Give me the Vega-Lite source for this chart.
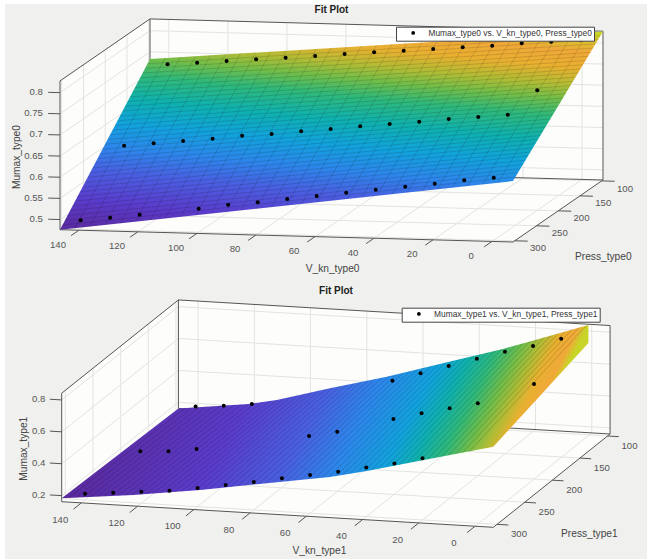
{"$schema":"https://vega.github.io/schema/vega-lite/v6.json","background":"#ffffff","padding":{"left":5,"top":4,"right":0,"bottom":0},"spacing":0,"resolve":{"scale":{"shape":"independent"},"legend":{"shape":"independent"}},"config":{"view":{"stroke":null,"fill":"#f0f0ee"},"text":{"font":"Liberation Sans"},"title":{"font":"Liberation Sans"},"legend":{"labelFont":"Liberation Sans"}},
"vconcat":[
{"width":642,"height":276,"title":{"text":"Fit Plot","fontSize":10,"fontWeight":"bold","color":"#222222","anchor":"middle","frame":"group","dx":5.5,"offset":-11},
"data":{"values":[
{"k":"w","V":146.4,"P":304,"Mu":0.476},{"k":"w","V":146.4,"P":304,"Mu":0.8277},{"k":"w","V":146.4,"P":97,"Mu":0.8277},{"k":"w","V":-7.1,"P":97,"Mu":0.8277},{"k":"w","V":-7.1,"P":97,"Mu":0.476},{"k":"w","V":-7.1,"P":304,"Mu":0.476},
{"k":"g","g":1,"V":140,"P":304,"Mu":0.476},{"k":"g","g":1,"V":140,"P":97,"Mu":0.476},{"k":"g","g":1,"V":140,"P":97,"Mu":0.8277},
{"k":"g","g":2,"V":120,"P":304,"Mu":0.476},{"k":"g","g":2,"V":120,"P":97,"Mu":0.476},{"k":"g","g":2,"V":120,"P":97,"Mu":0.8277},
{"k":"g","g":3,"V":100,"P":304,"Mu":0.476},{"k":"g","g":3,"V":100,"P":97,"Mu":0.476},{"k":"g","g":3,"V":100,"P":97,"Mu":0.8277},
{"k":"g","g":4,"V":80,"P":304,"Mu":0.476},{"k":"g","g":4,"V":80,"P":97,"Mu":0.476},{"k":"g","g":4,"V":80,"P":97,"Mu":0.8277},
{"k":"g","g":5,"V":60,"P":304,"Mu":0.476},{"k":"g","g":5,"V":60,"P":97,"Mu":0.476},{"k":"g","g":5,"V":60,"P":97,"Mu":0.8277},
{"k":"g","g":6,"V":40,"P":304,"Mu":0.476},{"k":"g","g":6,"V":40,"P":97,"Mu":0.476},{"k":"g","g":6,"V":40,"P":97,"Mu":0.8277},
{"k":"g","g":7,"V":20,"P":304,"Mu":0.476},{"k":"g","g":7,"V":20,"P":97,"Mu":0.476},{"k":"g","g":7,"V":20,"P":97,"Mu":0.8277},
{"k":"g","g":8,"V":0,"P":304,"Mu":0.476},{"k":"g","g":8,"V":0,"P":97,"Mu":0.476},{"k":"g","g":8,"V":0,"P":97,"Mu":0.8277},
{"k":"g","g":9,"V":146.4,"P":100,"Mu":0.8277},{"k":"g","g":9,"V":146.4,"P":100,"Mu":0.476},{"k":"g","g":9,"V":-7.1,"P":100,"Mu":0.476},
{"k":"g","g":10,"V":146.4,"P":150,"Mu":0.8277},{"k":"g","g":10,"V":146.4,"P":150,"Mu":0.476},{"k":"g","g":10,"V":-7.1,"P":150,"Mu":0.476},
{"k":"g","g":11,"V":146.4,"P":200,"Mu":0.8277},{"k":"g","g":11,"V":146.4,"P":200,"Mu":0.476},{"k":"g","g":11,"V":-7.1,"P":200,"Mu":0.476},
{"k":"g","g":12,"V":146.4,"P":250,"Mu":0.8277},{"k":"g","g":12,"V":146.4,"P":250,"Mu":0.476},{"k":"g","g":12,"V":-7.1,"P":250,"Mu":0.476},
{"k":"g","g":13,"V":146.4,"P":300,"Mu":0.8277},{"k":"g","g":13,"V":146.4,"P":300,"Mu":0.476},{"k":"g","g":13,"V":-7.1,"P":300,"Mu":0.476},
{"k":"g","g":14,"V":146.4,"P":304,"Mu":0.5},{"k":"g","g":14,"V":146.4,"P":97,"Mu":0.5},{"k":"g","g":14,"V":-7.1,"P":97,"Mu":0.5},
{"k":"g","g":15,"V":146.4,"P":304,"Mu":0.55},{"k":"g","g":15,"V":146.4,"P":97,"Mu":0.55},{"k":"g","g":15,"V":-7.1,"P":97,"Mu":0.55},
{"k":"g","g":16,"V":146.4,"P":304,"Mu":0.6},{"k":"g","g":16,"V":146.4,"P":97,"Mu":0.6},{"k":"g","g":16,"V":-7.1,"P":97,"Mu":0.6},
{"k":"g","g":17,"V":146.4,"P":304,"Mu":0.65},{"k":"g","g":17,"V":146.4,"P":97,"Mu":0.65},{"k":"g","g":17,"V":-7.1,"P":97,"Mu":0.65},
{"k":"g","g":18,"V":146.4,"P":304,"Mu":0.7},{"k":"g","g":18,"V":146.4,"P":97,"Mu":0.7},{"k":"g","g":18,"V":-7.1,"P":97,"Mu":0.7},
{"k":"g","g":19,"V":146.4,"P":304,"Mu":0.75},{"k":"g","g":19,"V":146.4,"P":97,"Mu":0.75},{"k":"g","g":19,"V":-7.1,"P":97,"Mu":0.75},
{"k":"g","g":20,"V":146.4,"P":304,"Mu":0.8},{"k":"g","g":20,"V":146.4,"P":97,"Mu":0.8},{"k":"g","g":20,"V":-7.1,"P":97,"Mu":0.8},
{"k":"b","g":1,"V":146.4,"P":304,"Mu":0.476},{"k":"b","g":1,"V":146.4,"P":304,"Mu":0.8277},{"k":"b","g":1,"V":146.4,"P":97,"Mu":0.8277},{"k":"b","g":1,"V":-7.1,"P":97,"Mu":0.8277},{"k":"b","g":1,"V":-7.1,"P":97,"Mu":0.476},{"k":"b","g":1,"V":146.4,"P":97,"Mu":0.476},{"k":"b","g":1,"V":146.4,"P":97,"Mu":0.8277},
{"k":"b","g":2,"V":146.4,"P":304,"Mu":0.476},{"k":"b","g":2,"V":-7.1,"P":304,"Mu":0.476},{"k":"b","g":2,"V":-7.1,"P":97,"Mu":0.476},
{"k":"b","g":3,"V":140,"P":304,"Mu":0.476},{"k":"b","g":3,"V":140,"P":322,"Mu":0.476},{"k":"b","g":4,"V":120,"P":304,"Mu":0.476},{"k":"b","g":4,"V":120,"P":322,"Mu":0.476},{"k":"b","g":5,"V":100,"P":304,"Mu":0.476},{"k":"b","g":5,"V":100,"P":322,"Mu":0.476},{"k":"b","g":6,"V":80,"P":304,"Mu":0.476},{"k":"b","g":6,"V":80,"P":322,"Mu":0.476},{"k":"b","g":7,"V":60,"P":304,"Mu":0.476},{"k":"b","g":7,"V":60,"P":322,"Mu":0.476},{"k":"b","g":8,"V":40,"P":304,"Mu":0.476},{"k":"b","g":8,"V":40,"P":322,"Mu":0.476},{"k":"b","g":9,"V":20,"P":304,"Mu":0.476},{"k":"b","g":9,"V":20,"P":322,"Mu":0.476},{"k":"b","g":10,"V":0,"P":304,"Mu":0.476},{"k":"b","g":10,"V":0,"P":322,"Mu":0.476},
{"k":"b","g":11,"V":-7.1,"P":100,"Mu":0.476},{"k":"b","g":11,"V":-11.5,"P":100,"Mu":0.476},{"k":"b","g":12,"V":-7.1,"P":150,"Mu":0.476},{"k":"b","g":12,"V":-11.5,"P":150,"Mu":0.476},{"k":"b","g":13,"V":-7.1,"P":200,"Mu":0.476},{"k":"b","g":13,"V":-11.5,"P":200,"Mu":0.476},{"k":"b","g":14,"V":-7.1,"P":250,"Mu":0.476},{"k":"b","g":14,"V":-11.5,"P":250,"Mu":0.476},{"k":"b","g":15,"V":-7.1,"P":300,"Mu":0.476},{"k":"b","g":15,"V":-11.5,"P":300,"Mu":0.476},
{"k":"b","g":16,"V":146.4,"P":304,"Mu":0.5},{"k":"b","g":16,"V":150.4,"P":304,"Mu":0.5},{"k":"b","g":17,"V":146.4,"P":304,"Mu":0.55},{"k":"b","g":17,"V":150.4,"P":304,"Mu":0.55},{"k":"b","g":18,"V":146.4,"P":304,"Mu":0.6},{"k":"b","g":18,"V":150.4,"P":304,"Mu":0.6},{"k":"b","g":19,"V":146.4,"P":304,"Mu":0.65},{"k":"b","g":19,"V":150.4,"P":304,"Mu":0.65},{"k":"b","g":20,"V":146.4,"P":304,"Mu":0.7},{"k":"b","g":20,"V":150.4,"P":304,"Mu":0.7},{"k":"b","g":21,"V":146.4,"P":304,"Mu":0.75},{"k":"b","g":21,"V":150.4,"P":304,"Mu":0.75},{"k":"b","g":22,"V":146.4,"P":304,"Mu":0.8},{"k":"b","g":22,"V":150.4,"P":304,"Mu":0.8},
{"k":"l","t":"140","V":140,"P":352,"Mu":0.476},{"k":"l","t":"120","V":120,"P":352,"Mu":0.476},{"k":"l","t":"100","V":100,"P":352,"Mu":0.476},{"k":"l","t":"80","V":80,"P":352,"Mu":0.476},{"k":"l","t":"60","V":60,"P":352,"Mu":0.476},{"k":"l","t":"40","V":40,"P":352,"Mu":0.476},{"k":"l","t":"20","V":20,"P":352,"Mu":0.476},{"k":"l","t":"0","V":0,"P":352,"Mu":0.476},
{"k":"l","t":"100","V":-15,"P":100,"Mu":0.4595},{"k":"l","t":"150","V":-15,"P":150,"Mu":0.4595},{"k":"l","t":"200","V":-15,"P":200,"Mu":0.4595},{"k":"l","t":"250","V":-15,"P":250,"Mu":0.4595},{"k":"l","t":"300","V":-15,"P":300,"Mu":0.4595},
{"k":"z","t":"0.5","V":152.2,"P":304,"Mu":0.5},{"k":"z","t":"0.55","V":152.2,"P":304,"Mu":0.55},{"k":"z","t":"0.6","V":152.2,"P":304,"Mu":0.6},{"k":"z","t":"0.65","V":152.2,"P":304,"Mu":0.65},{"k":"z","t":"0.7","V":152.2,"P":304,"Mu":0.7},{"k":"z","t":"0.75","V":152.2,"P":304,"Mu":0.75},{"k":"z","t":"0.8","V":152.2,"P":304,"Mu":0.8},
{"k":"a","t":"V_kn_type0","V":39,"P":406,"Mu":0.476},{"k":"a","t":"Press_type0","V":-43.6,"P":344,"Mu":0.476},{"k":"r","t":"Mumax_type0","V":161.1,"P":304,"Mu":0.645},
{"k":"s","V":146.4,"P":304,"Mu":0.476},{"k":"s","V":-7.1,"P":304,"Mu":0.62},{"k":"s","V":-7.1,"P":97,"Mu":0.827},{"k":"s","V":146.4,"P":97,"Mu":0.733},
{"k":"m","g":1,"V":141.3,"P":304,"Mu":0.481},{"k":"m","g":1,"V":141.3,"P":97,"Mu":0.736},{"k":"m","g":2,"V":136.2,"P":304,"Mu":0.486},{"k":"m","g":2,"V":136.2,"P":97,"Mu":0.739},{"k":"m","g":3,"V":131.05,"P":304,"Mu":0.49},{"k":"m","g":3,"V":131.05,"P":97,"Mu":0.742},{"k":"m","g":4,"V":125.9,"P":304,"Mu":0.495},{"k":"m","g":4,"V":125.9,"P":97,"Mu":0.746},{"k":"m","g":5,"V":120.8,"P":304,"Mu":0.5},{"k":"m","g":5,"V":120.8,"P":97,"Mu":0.749},{"k":"m","g":6,"V":115.7,"P":304,"Mu":0.505},{"k":"m","g":6,"V":115.7,"P":97,"Mu":0.752},{"k":"m","g":7,"V":110.6,"P":304,"Mu":0.51},{"k":"m","g":7,"V":110.6,"P":97,"Mu":0.755},{"k":"m","g":8,"V":105.5,"P":304,"Mu":0.514},{"k":"m","g":8,"V":105.5,"P":97,"Mu":0.758},{"k":"m","g":9,"V":100.4,"P":304,"Mu":0.519},{"k":"m","g":9,"V":100.4,"P":97,"Mu":0.761},{"k":"m","g":10,"V":95.2,"P":304,"Mu":0.524},{"k":"m","g":10,"V":95.2,"P":97,"Mu":0.764},{"k":"m","g":11,"V":90.1,"P":304,"Mu":0.529},{"k":"m","g":11,"V":90.1,"P":97,"Mu":0.767},{"k":"m","g":12,"V":85,"P":304,"Mu":0.534},{"k":"m","g":12,"V":85,"P":97,"Mu":0.771},{"k":"m","g":13,"V":79.9,"P":304,"Mu":0.538},{"k":"m","g":13,"V":79.9,"P":97,"Mu":0.774},{"k":"m","g":14,"V":74.8,"P":304,"Mu":0.543},{"k":"m","g":14,"V":74.8,"P":97,"Mu":0.777},{"k":"m","g":15,"V":69.65,"P":304,"Mu":0.548},{"k":"m","g":15,"V":69.65,"P":97,"Mu":0.78},{"k":"m","g":16,"V":64.5,"P":304,"Mu":0.553},{"k":"m","g":16,"V":64.5,"P":97,"Mu":0.783},{"k":"m","g":17,"V":59.4,"P":304,"Mu":0.558},{"k":"m","g":17,"V":59.4,"P":97,"Mu":0.786},{"k":"m","g":18,"V":54.3,"P":304,"Mu":0.562},{"k":"m","g":18,"V":54.3,"P":97,"Mu":0.789},{"k":"m","g":19,"V":49.2,"P":304,"Mu":0.567},{"k":"m","g":19,"V":49.2,"P":97,"Mu":0.792},{"k":"m","g":20,"V":44.1,"P":304,"Mu":0.572},{"k":"m","g":20,"V":44.1,"P":97,"Mu":0.796},{"k":"m","g":21,"V":38.95,"P":304,"Mu":0.577},{"k":"m","g":21,"V":38.95,"P":97,"Mu":0.799},{"k":"m","g":22,"V":33.8,"P":304,"Mu":0.582},{"k":"m","g":22,"V":33.8,"P":97,"Mu":0.802},{"k":"m","g":23,"V":28.7,"P":304,"Mu":0.586},{"k":"m","g":23,"V":28.7,"P":97,"Mu":0.805},{"k":"m","g":24,"V":23.6,"P":304,"Mu":0.591},{"k":"m","g":24,"V":23.6,"P":97,"Mu":0.808},{"k":"m","g":25,"V":18.5,"P":304,"Mu":0.596},{"k":"m","g":25,"V":18.5,"P":97,"Mu":0.811},{"k":"m","g":26,"V":13.4,"P":304,"Mu":0.601},{"k":"m","g":26,"V":13.4,"P":97,"Mu":0.814},{"k":"m","g":27,"V":8.25,"P":304,"Mu":0.606},{"k":"m","g":27,"V":8.25,"P":97,"Mu":0.818},{"k":"m","g":28,"V":3.1,"P":304,"Mu":0.61},{"k":"m","g":28,"V":3.1,"P":97,"Mu":0.821},{"k":"m","g":29,"V":-2,"P":304,"Mu":0.615},{"k":"m","g":29,"V":-2,"P":97,"Mu":0.824},
{"k":"m","g":31,"V":146.4,"P":298.25,"Mu":0.483},{"k":"m","g":31,"V":-7.1,"P":298.25,"Mu":0.626},{"k":"m","g":32,"V":146.4,"P":292.5,"Mu":0.49},{"k":"m","g":32,"V":-7.1,"P":292.5,"Mu":0.632},{"k":"m","g":33,"V":146.4,"P":286.75,"Mu":0.497},{"k":"m","g":33,"V":-7.1,"P":286.75,"Mu":0.637},{"k":"m","g":34,"V":146.4,"P":281,"Mu":0.505},{"k":"m","g":34,"V":-7.1,"P":281,"Mu":0.643},{"k":"m","g":35,"V":146.4,"P":275.25,"Mu":0.512},{"k":"m","g":35,"V":-7.1,"P":275.25,"Mu":0.649},{"k":"m","g":36,"V":146.4,"P":269.5,"Mu":0.519},{"k":"m","g":36,"V":-7.1,"P":269.5,"Mu":0.655},{"k":"m","g":37,"V":146.4,"P":263.75,"Mu":0.526},{"k":"m","g":37,"V":-7.1,"P":263.75,"Mu":0.66},{"k":"m","g":38,"V":146.4,"P":258,"Mu":0.533},{"k":"m","g":38,"V":-7.1,"P":258,"Mu":0.666},{"k":"m","g":39,"V":146.4,"P":252.25,"Mu":0.54},{"k":"m","g":39,"V":-7.1,"P":252.25,"Mu":0.672},{"k":"m","g":40,"V":146.4,"P":246.5,"Mu":0.547},{"k":"m","g":40,"V":-7.1,"P":246.5,"Mu":0.678},{"k":"m","g":41,"V":146.4,"P":240.75,"Mu":0.555},{"k":"m","g":41,"V":-7.1,"P":240.75,"Mu":0.683},{"k":"m","g":42,"V":146.4,"P":235,"Mu":0.562},{"k":"m","g":42,"V":-7.1,"P":235,"Mu":0.689},{"k":"m","g":43,"V":146.4,"P":229.25,"Mu":0.569},{"k":"m","g":43,"V":-7.1,"P":229.25,"Mu":0.695},{"k":"m","g":44,"V":146.4,"P":223.5,"Mu":0.576},{"k":"m","g":44,"V":-7.1,"P":223.5,"Mu":0.701},{"k":"m","g":45,"V":146.4,"P":217.75,"Mu":0.583},{"k":"m","g":45,"V":-7.1,"P":217.75,"Mu":0.706},{"k":"m","g":46,"V":146.4,"P":212,"Mu":0.59},{"k":"m","g":46,"V":-7.1,"P":212,"Mu":0.712},{"k":"m","g":47,"V":146.4,"P":206.25,"Mu":0.597},{"k":"m","g":47,"V":-7.1,"P":206.25,"Mu":0.718},{"k":"m","g":48,"V":146.4,"P":200.5,"Mu":0.605},{"k":"m","g":48,"V":-7.1,"P":200.5,"Mu":0.724},{"k":"m","g":49,"V":146.4,"P":194.75,"Mu":0.612},{"k":"m","g":49,"V":-7.1,"P":194.75,"Mu":0.729},{"k":"m","g":50,"V":146.4,"P":189,"Mu":0.619},{"k":"m","g":50,"V":-7.1,"P":189,"Mu":0.735},{"k":"m","g":51,"V":146.4,"P":183.25,"Mu":0.626},{"k":"m","g":51,"V":-7.1,"P":183.25,"Mu":0.741},{"k":"m","g":52,"V":146.4,"P":177.5,"Mu":0.633},{"k":"m","g":52,"V":-7.1,"P":177.5,"Mu":0.747},{"k":"m","g":53,"V":146.4,"P":171.75,"Mu":0.64},{"k":"m","g":53,"V":-7.1,"P":171.75,"Mu":0.752},{"k":"m","g":54,"V":146.4,"P":166,"Mu":0.647},{"k":"m","g":54,"V":-7.1,"P":166,"Mu":0.758},{"k":"m","g":55,"V":146.4,"P":160.25,"Mu":0.655},{"k":"m","g":55,"V":-7.1,"P":160.25,"Mu":0.764},{"k":"m","g":56,"V":146.4,"P":154.5,"Mu":0.662},{"k":"m","g":56,"V":-7.1,"P":154.5,"Mu":0.77},{"k":"m","g":57,"V":146.4,"P":148.75,"Mu":0.669},{"k":"m","g":57,"V":-7.1,"P":148.75,"Mu":0.775},{"k":"m","g":58,"V":146.4,"P":143,"Mu":0.676},{"k":"m","g":58,"V":-7.1,"P":143,"Mu":0.781},{"k":"m","g":59,"V":146.4,"P":137.25,"Mu":0.683},{"k":"m","g":59,"V":-7.1,"P":137.25,"Mu":0.787},{"k":"m","g":60,"V":146.4,"P":131.5,"Mu":0.69},{"k":"m","g":60,"V":-7.1,"P":131.5,"Mu":0.793},{"k":"m","g":61,"V":146.4,"P":125.75,"Mu":0.697},{"k":"m","g":61,"V":-7.1,"P":125.75,"Mu":0.798},{"k":"m","g":62,"V":146.4,"P":120,"Mu":0.705},{"k":"m","g":62,"V":-7.1,"P":120,"Mu":0.804},{"k":"m","g":63,"V":146.4,"P":114.25,"Mu":0.712},{"k":"m","g":63,"V":-7.1,"P":114.25,"Mu":0.81},{"k":"m","g":64,"V":146.4,"P":108.5,"Mu":0.719},{"k":"m","g":64,"V":-7.1,"P":108.5,"Mu":0.816},{"k":"m","g":65,"V":146.4,"P":102.75,"Mu":0.726},{"k":"m","g":65,"V":-7.1,"P":102.75,"Mu":0.821},
{"k":"p","V":140,"P":100,"Mu":0.7238},{"k":"p","V":130,"P":100,"Mu":0.7294},{"k":"p","V":120,"P":100,"Mu":0.7353},{"k":"p","V":110,"P":100,"Mu":0.7412},{"k":"p","V":100,"P":100,"Mu":0.7469},{"k":"p","V":90,"P":100,"Mu":0.7528},{"k":"p","V":80,"P":100,"Mu":0.7594},{"k":"p","V":70,"P":100,"Mu":0.7654},{"k":"p","V":60,"P":100,"Mu":0.771},{"k":"p","V":50,"P":100,"Mu":0.777},{"k":"p","V":40,"P":100,"Mu":0.7829},{"k":"p","V":30,"P":100,"Mu":0.7885},{"k":"p","V":20,"P":100,"Mu":0.7961},{"k":"p","V":10,"P":100,"Mu":0.8018},{"k":"p","V":0,"P":100,"Mu":0.8077},
{"k":"p","V":140,"P":200,"Mu":0.6022},{"k":"p","V":130,"P":200,"Mu":0.6097},{"k":"p","V":120,"P":200,"Mu":0.617},{"k":"p","V":110,"P":200,"Mu":0.6244},{"k":"p","V":100,"P":200,"Mu":0.6333},{"k":"p","V":90,"P":200,"Mu":0.6393},{"k":"p","V":80,"P":200,"Mu":0.6475},{"k":"p","V":70,"P":200,"Mu":0.6549},{"k":"p","V":60,"P":200,"Mu":0.6631},{"k":"p","V":50,"P":200,"Mu":0.6705},{"k":"p","V":40,"P":200,"Mu":0.6778},{"k":"p","V":30,"P":200,"Mu":0.6861},{"k":"p","V":20,"P":200,"Mu":0.6927},{"k":"p","V":10,"P":200,"Mu":0.7},{"k":"p","V":0,"P":200,"Mu":0.7596},
{"k":"p","V":140,"P":300,"Mu":0.4966},{"k":"p","V":130,"P":300,"Mu":0.5046},{"k":"p","V":120,"P":300,"Mu":0.5136},{"k":"p","V":100,"P":300,"Mu":0.5316},{"k":"p","V":90,"P":300,"Mu":0.5429},{"k":"p","V":80,"P":300,"Mu":0.5505},{"k":"p","V":70,"P":300,"Mu":0.5602},{"k":"p","V":60,"P":300,"Mu":0.5691},{"k":"p","V":50,"P":300,"Mu":0.5788},{"k":"p","V":40,"P":300,"Mu":0.5878},{"k":"p","V":30,"P":300,"Mu":0.5968},{"k":"p","V":20,"P":300,"Mu":0.6058},{"k":"p","V":10,"P":300,"Mu":0.6157},{"k":"p","V":0,"P":300,"Mu":0.6238}
]},
"transform":[{"calculate":"60+(146.4-datum.V)*2.951+(304-datum.P)*0.4348","as":"sx"},{"calculate":"229.7+(146.4-datum.V)*0.0801-(304-datum.P)*0.2995-(datum.Mu-0.476)*423","as":"sy"}],
"encoding":{"x":{"field":"sx","type":"quantitative","axis":null,"scale":{"domain":[5,647],"nice":false,"zero":false}},"y":{"field":"sy","type":"quantitative","axis":null,"scale":{"domain":[280,4],"nice":false,"zero":false}}},
"layer":[
{"transform":[{"filter":"datum.k==='w'"}],"mark":{"type":"line","order":false,"fill":"#fdfdfb","strokeWidth":0}},
{"transform":[{"filter":"datum.k==='g'"}],"mark":{"type":"line","order":false,"stroke":"#e3e3e1","strokeWidth":1},"encoding":{"detail":{"field":"g"}}},
{"transform":[{"filter":"datum.k==='b'"}],"mark":{"type":"line","order":false,"stroke":"#555555","strokeWidth":1},"encoding":{"detail":{"field":"g"}}},
{"transform":[{"filter":"datum.k==='l'"}],"mark":{"type":"text","fontSize":9.6,"fill":"#555555","align":"center","baseline":"middle"},"encoding":{"text":{"field":"t"}}},
{"transform":[{"filter":"datum.k==='z'"}],"mark":{"type":"text","fontSize":9.6,"fill":"#555555","align":"right","baseline":"middle"},"encoding":{"text":{"field":"t"}}},
{"transform":[{"filter":"datum.k==='a'"}],"mark":{"type":"text","fontSize":10.2,"fill":"#444444","align":"center","baseline":"middle"},"encoding":{"text":{"field":"t"}}},
{"transform":[{"filter":"datum.k==='r'"}],"mark":{"type":"text","fontSize":10.2,"fill":"#444444","align":"center","baseline":"middle","angle":270},"encoding":{"text":{"field":"t"}}},
{"transform":[{"filter":"datum.k==='s'"}],"mark":{"type":"line","order":false,"strokeWidth":0,"fill":{"gradient":"linear","x1":0,"y1":1,"x2":0.313,"y2":-0.172,"stops":[{"offset":0,"color":"#5a2a9e"},{"offset":0.13,"color":"#5a3ccb"},{"offset":0.25,"color":"#4a5fe0"},{"offset":0.35,"color":"#2d86ea"},{"offset":0.45,"color":"#12a2dc"},{"offset":0.55,"color":"#0fb0b0"},{"offset":0.65,"color":"#2fb87a"},{"offset":0.72,"color":"#70bd4a"},{"offset":0.78,"color":"#b0bc35"},{"offset":0.85,"color":"#e8b030"},{"offset":0.92,"color":"#f0a838"},{"offset":1,"color":"#c8d428"}]}}},
{"transform":[{"filter":"datum.k==='m'"}],"mark":{"type":"line","order":false,"stroke":"#000000","strokeWidth":0.6,"strokeOpacity":0.22},"encoding":{"detail":{"field":"g"}}},
{"transform":[{"filter":"datum.k==='p'"}],"mark":{"type":"point","filled":true,"fill":"#000000","fillOpacity":1,"size":16},"encoding":{"shape":{"datum":"Mumax_type0 vs. V_kn_type0, Press_type0","scale":{"range":["circle"]},"legend":{"title":null,"orient":"none","legendX":391,"legendY":22.7,"fillColor":"#ffffff","strokeColor":"#444444","padding":2,"labelFontSize":8.4,"labelColor":"#333333","labelLimit":400,"symbolSize":14,"symbolType":"circle","symbolFillColor":"#000000","symbolStrokeColor":"#000000","symbolOffset":11,"labelOffset":11}}}}
]},
{"width":642,"height":279,"title":{"text":"Fit Plot","fontSize":10,"fontWeight":"bold","color":"#222222","anchor":"middle","frame":"group","dx":10,"offset":-16},
"data":{"values":[
{"k":"w","V":147,"P":306.7,"Mu":0.162},{"k":"w","V":147,"P":306.7,"Mu":0.842},{"k":"w","V":147,"P":95.5,"Mu":0.842},{"k":"w","V":-6.5,"P":95.5,"Mu":0.842},{"k":"w","V":-6.5,"P":95.5,"Mu":0.162},{"k":"w","V":-6.5,"P":306.7,"Mu":0.162},
{"k":"g","g":1,"V":140,"P":306.7,"Mu":0.162},{"k":"g","g":1,"V":140,"P":95.5,"Mu":0.162},{"k":"g","g":1,"V":140,"P":95.5,"Mu":0.842},
{"k":"g","g":2,"V":120,"P":306.7,"Mu":0.162},{"k":"g","g":2,"V":120,"P":95.5,"Mu":0.162},{"k":"g","g":2,"V":120,"P":95.5,"Mu":0.842},
{"k":"g","g":3,"V":100,"P":306.7,"Mu":0.162},{"k":"g","g":3,"V":100,"P":95.5,"Mu":0.162},{"k":"g","g":3,"V":100,"P":95.5,"Mu":0.842},
{"k":"g","g":4,"V":80,"P":306.7,"Mu":0.162},{"k":"g","g":4,"V":80,"P":95.5,"Mu":0.162},{"k":"g","g":4,"V":80,"P":95.5,"Mu":0.842},
{"k":"g","g":5,"V":60,"P":306.7,"Mu":0.162},{"k":"g","g":5,"V":60,"P":95.5,"Mu":0.162},{"k":"g","g":5,"V":60,"P":95.5,"Mu":0.842},
{"k":"g","g":6,"V":40,"P":306.7,"Mu":0.162},{"k":"g","g":6,"V":40,"P":95.5,"Mu":0.162},{"k":"g","g":6,"V":40,"P":95.5,"Mu":0.842},
{"k":"g","g":7,"V":20,"P":306.7,"Mu":0.162},{"k":"g","g":7,"V":20,"P":95.5,"Mu":0.162},{"k":"g","g":7,"V":20,"P":95.5,"Mu":0.842},
{"k":"g","g":8,"V":0,"P":306.7,"Mu":0.162},{"k":"g","g":8,"V":0,"P":95.5,"Mu":0.162},{"k":"g","g":8,"V":0,"P":95.5,"Mu":0.842},
{"k":"g","g":9,"V":147,"P":100,"Mu":0.842},{"k":"g","g":9,"V":147,"P":100,"Mu":0.162},{"k":"g","g":9,"V":-6.5,"P":100,"Mu":0.162},
{"k":"g","g":10,"V":147,"P":150,"Mu":0.842},{"k":"g","g":10,"V":147,"P":150,"Mu":0.162},{"k":"g","g":10,"V":-6.5,"P":150,"Mu":0.162},
{"k":"g","g":11,"V":147,"P":200,"Mu":0.842},{"k":"g","g":11,"V":147,"P":200,"Mu":0.162},{"k":"g","g":11,"V":-6.5,"P":200,"Mu":0.162},
{"k":"g","g":12,"V":147,"P":250,"Mu":0.842},{"k":"g","g":12,"V":147,"P":250,"Mu":0.162},{"k":"g","g":12,"V":-6.5,"P":250,"Mu":0.162},
{"k":"g","g":13,"V":147,"P":300,"Mu":0.842},{"k":"g","g":13,"V":147,"P":300,"Mu":0.162},{"k":"g","g":13,"V":-6.5,"P":300,"Mu":0.162},
{"k":"g","g":14,"V":147,"P":306.7,"Mu":0.2},{"k":"g","g":14,"V":147,"P":95.5,"Mu":0.2},{"k":"g","g":14,"V":-6.5,"P":95.5,"Mu":0.2},
{"k":"g","g":15,"V":147,"P":306.7,"Mu":0.4},{"k":"g","g":15,"V":147,"P":95.5,"Mu":0.4},{"k":"g","g":15,"V":-6.5,"P":95.5,"Mu":0.4},
{"k":"g","g":16,"V":147,"P":306.7,"Mu":0.6},{"k":"g","g":16,"V":147,"P":95.5,"Mu":0.6},{"k":"g","g":16,"V":-6.5,"P":95.5,"Mu":0.6},
{"k":"g","g":17,"V":147,"P":306.7,"Mu":0.8},{"k":"g","g":17,"V":147,"P":95.5,"Mu":0.8},{"k":"g","g":17,"V":-6.5,"P":95.5,"Mu":0.8},
{"k":"b","g":1,"V":147,"P":306.7,"Mu":0.162},{"k":"b","g":1,"V":147,"P":306.7,"Mu":0.842},{"k":"b","g":1,"V":147,"P":95.5,"Mu":0.842},{"k":"b","g":1,"V":-6.5,"P":95.5,"Mu":0.842},{"k":"b","g":1,"V":-6.5,"P":95.5,"Mu":0.162},{"k":"b","g":1,"V":147,"P":95.5,"Mu":0.162},{"k":"b","g":1,"V":147,"P":95.5,"Mu":0.842},
{"k":"b","g":2,"V":147,"P":306.7,"Mu":0.162},{"k":"b","g":2,"V":-6.5,"P":306.7,"Mu":0.162},{"k":"b","g":2,"V":-6.5,"P":95.5,"Mu":0.162},
{"k":"b","g":3,"V":140,"P":306.7,"Mu":0.162},{"k":"b","g":3,"V":140,"P":321,"Mu":0.162},{"k":"b","g":4,"V":120,"P":306.7,"Mu":0.162},{"k":"b","g":4,"V":120,"P":321,"Mu":0.162},{"k":"b","g":5,"V":100,"P":306.7,"Mu":0.162},{"k":"b","g":5,"V":100,"P":321,"Mu":0.162},{"k":"b","g":6,"V":80,"P":306.7,"Mu":0.162},{"k":"b","g":6,"V":80,"P":321,"Mu":0.162},{"k":"b","g":7,"V":60,"P":306.7,"Mu":0.162},{"k":"b","g":7,"V":60,"P":321,"Mu":0.162},{"k":"b","g":8,"V":40,"P":306.7,"Mu":0.162},{"k":"b","g":8,"V":40,"P":321,"Mu":0.162},{"k":"b","g":9,"V":20,"P":306.7,"Mu":0.162},{"k":"b","g":9,"V":20,"P":321,"Mu":0.162},{"k":"b","g":10,"V":0,"P":306.7,"Mu":0.162},{"k":"b","g":10,"V":0,"P":321,"Mu":0.162},
{"k":"b","g":11,"V":-6.5,"P":100,"Mu":0.162},{"k":"b","g":11,"V":-10.5,"P":100,"Mu":0.162},{"k":"b","g":12,"V":-6.5,"P":150,"Mu":0.162},{"k":"b","g":12,"V":-10.5,"P":150,"Mu":0.162},{"k":"b","g":13,"V":-6.5,"P":200,"Mu":0.162},{"k":"b","g":13,"V":-10.5,"P":200,"Mu":0.162},{"k":"b","g":14,"V":-6.5,"P":250,"Mu":0.162},{"k":"b","g":14,"V":-10.5,"P":250,"Mu":0.162},{"k":"b","g":15,"V":-6.5,"P":300,"Mu":0.162},{"k":"b","g":15,"V":-10.5,"P":300,"Mu":0.162},
{"k":"b","g":16,"V":147,"P":306.7,"Mu":0.2},{"k":"b","g":16,"V":151.2,"P":306.7,"Mu":0.2},{"k":"b","g":17,"V":147,"P":306.7,"Mu":0.4},{"k":"b","g":17,"V":151.2,"P":306.7,"Mu":0.4},{"k":"b","g":18,"V":147,"P":306.7,"Mu":0.6},{"k":"b","g":18,"V":151.2,"P":306.7,"Mu":0.6},{"k":"b","g":19,"V":147,"P":306.7,"Mu":0.8},{"k":"b","g":19,"V":151.2,"P":306.7,"Mu":0.8},
{"k":"l","t":"140","V":140,"P":345,"Mu":0.162},{"k":"l","t":"120","V":120,"P":345,"Mu":0.162},{"k":"l","t":"100","V":100,"P":345,"Mu":0.162},{"k":"l","t":"80","V":80,"P":345,"Mu":0.162},{"k":"l","t":"60","V":60,"P":345,"Mu":0.162},{"k":"l","t":"40","V":40,"P":345,"Mu":0.162},{"k":"l","t":"20","V":20,"P":345,"Mu":0.162},{"k":"l","t":"0","V":0,"P":345,"Mu":0.162},
{"k":"l","t":"100","V":-14.3,"P":100,"Mu":0.11},{"k":"l","t":"150","V":-14.3,"P":150,"Mu":0.11},{"k":"l","t":"200","V":-14.3,"P":200,"Mu":0.11},{"k":"l","t":"250","V":-14.3,"P":250,"Mu":0.11},{"k":"l","t":"300","V":-14.3,"P":300,"Mu":0.11},
{"k":"z","t":"0.2","V":152.8,"P":306.7,"Mu":0.2},{"k":"z","t":"0.4","V":152.8,"P":306.7,"Mu":0.4},{"k":"z","t":"0.6","V":152.8,"P":306.7,"Mu":0.6},{"k":"z","t":"0.8","V":152.8,"P":306.7,"Mu":0.8},
{"k":"a","t":"V_kn_type1","V":41.4,"P":377.7,"Mu":0.162},{"k":"a","t":"Press_type1","V":-41.2,"P":309.5,"Mu":0.162},{"k":"r","t":"Mumax_type1","V":160.4,"P":306.7,"Mu":0.48},
{"k":"s","V":147,"P":306.7,"Mu":0.183},{"k":"s","V":121.6,"P":306.7,"Mu":0.23},{"k":"s","V":97.8,"P":306.7,"Mu":0.287},{"k":"s","V":74.1,"P":306.7,"Mu":0.354},{"k":"s","V":51.6,"P":306.7,"Mu":0.417},{"k":"s","V":38.5,"P":306.7,"Mu":0.468},{"k":"s","V":19.6,"P":306.7,"Mu":0.552},{"k":"s","V":-6.5,"P":306.7,"Mu":0.667},{"k":"s","V":1.2,"P":95.5,"Mu":0.724},{"k":"s","V":1.2,"P":95.5,"Mu":0.837},{"k":"s","V":22.3,"P":95.5,"Mu":0.711},{"k":"s","V":32,"P":95.5,"Mu":0.653},{"k":"s","V":52.2,"P":95.5,"Mu":0.548},{"k":"s","V":72.9,"P":95.5,"Mu":0.4385},{"k":"s","V":93.1,"P":95.5,"Mu":0.344},{"k":"s","V":112,"P":95.5,"Mu":0.251},{"k":"s","V":122,"P":95.5,"Mu":0.216},{"k":"s","V":147,"P":95.5,"Mu":0.162},
{"k":"m","g":1,"V":144.5,"P":306.7,"Mu":0.188},{"k":"m","g":1,"V":144.5,"P":95.5,"Mu":0.167},{"k":"m","g":2,"V":142,"P":306.7,"Mu":0.192},{"k":"m","g":2,"V":142,"P":95.5,"Mu":0.173},{"k":"m","g":3,"V":139.5,"P":306.7,"Mu":0.197},{"k":"m","g":3,"V":139.5,"P":95.5,"Mu":0.178},{"k":"m","g":4,"V":137,"P":306.7,"Mu":0.202},{"k":"m","g":4,"V":137,"P":95.5,"Mu":0.184},{"k":"m","g":5,"V":134.5,"P":306.7,"Mu":0.206},{"k":"m","g":5,"V":134.5,"P":95.5,"Mu":0.189},{"k":"m","g":6,"V":132,"P":306.7,"Mu":0.211},{"k":"m","g":6,"V":132,"P":95.5,"Mu":0.194},{"k":"m","g":7,"V":129.5,"P":306.7,"Mu":0.215},{"k":"m","g":7,"V":129.5,"P":95.5,"Mu":0.2},{"k":"m","g":8,"V":127,"P":306.7,"Mu":0.22},{"k":"m","g":8,"V":127,"P":95.5,"Mu":0.205},{"k":"m","g":9,"V":124.5,"P":306.7,"Mu":0.225},{"k":"m","g":9,"V":124.5,"P":95.5,"Mu":0.211},{"k":"m","g":10,"V":122,"P":306.7,"Mu":0.229},{"k":"m","g":10,"V":122,"P":95.5,"Mu":0.216},{"k":"m","g":11,"V":119.5,"P":306.7,"Mu":0.235},{"k":"m","g":11,"V":119.5,"P":95.5,"Mu":0.225},{"k":"m","g":12,"V":117,"P":306.7,"Mu":0.241},{"k":"m","g":12,"V":117,"P":95.5,"Mu":0.233},{"k":"m","g":13,"V":114.5,"P":306.7,"Mu":0.247},{"k":"m","g":13,"V":114.5,"P":95.5,"Mu":0.242},{"k":"m","g":14,"V":112,"P":306.7,"Mu":0.253},{"k":"m","g":14,"V":112,"P":95.5,"Mu":0.251},{"k":"m","g":15,"V":109.5,"P":306.7,"Mu":0.259},{"k":"m","g":15,"V":109.5,"P":95.5,"Mu":0.263},{"k":"m","g":16,"V":107,"P":306.7,"Mu":0.265},{"k":"m","g":16,"V":107,"P":95.5,"Mu":0.276},{"k":"m","g":17,"V":104.5,"P":306.7,"Mu":0.271},{"k":"m","g":17,"V":104.5,"P":95.5,"Mu":0.288},{"k":"m","g":18,"V":102,"P":306.7,"Mu":0.277},{"k":"m","g":18,"V":102,"P":95.5,"Mu":0.3},{"k":"m","g":19,"V":99.5,"P":306.7,"Mu":0.283},{"k":"m","g":19,"V":99.5,"P":95.5,"Mu":0.312},{"k":"m","g":20,"V":97,"P":306.7,"Mu":0.289},{"k":"m","g":20,"V":97,"P":95.5,"Mu":0.325},{"k":"m","g":21,"V":94.5,"P":306.7,"Mu":0.296},{"k":"m","g":21,"V":94.5,"P":95.5,"Mu":0.337},{"k":"m","g":22,"V":92,"P":306.7,"Mu":0.303},{"k":"m","g":22,"V":92,"P":95.5,"Mu":0.349},{"k":"m","g":23,"V":89.5,"P":306.7,"Mu":0.31},{"k":"m","g":23,"V":89.5,"P":95.5,"Mu":0.361},{"k":"m","g":24,"V":87,"P":306.7,"Mu":0.318},{"k":"m","g":24,"V":87,"P":95.5,"Mu":0.373},{"k":"m","g":25,"V":84.5,"P":306.7,"Mu":0.325},{"k":"m","g":25,"V":84.5,"P":95.5,"Mu":0.384},{"k":"m","g":26,"V":82,"P":306.7,"Mu":0.332},{"k":"m","g":26,"V":82,"P":95.5,"Mu":0.396},{"k":"m","g":27,"V":79.5,"P":306.7,"Mu":0.339},{"k":"m","g":27,"V":79.5,"P":95.5,"Mu":0.408},{"k":"m","g":28,"V":77,"P":306.7,"Mu":0.346},{"k":"m","g":28,"V":77,"P":95.5,"Mu":0.419},{"k":"m","g":29,"V":74.5,"P":306.7,"Mu":0.353},{"k":"m","g":29,"V":74.5,"P":95.5,"Mu":0.431},{"k":"m","g":30,"V":72,"P":306.7,"Mu":0.36},{"k":"m","g":30,"V":72,"P":95.5,"Mu":0.443},{"k":"m","g":31,"V":69.5,"P":306.7,"Mu":0.367},{"k":"m","g":31,"V":69.5,"P":95.5,"Mu":0.456},{"k":"m","g":32,"V":67,"P":306.7,"Mu":0.374},{"k":"m","g":32,"V":67,"P":95.5,"Mu":0.47},{"k":"m","g":33,"V":64.5,"P":306.7,"Mu":0.381},{"k":"m","g":33,"V":64.5,"P":95.5,"Mu":0.483},{"k":"m","g":34,"V":62,"P":306.7,"Mu":0.388},{"k":"m","g":34,"V":62,"P":95.5,"Mu":0.496},{"k":"m","g":35,"V":59.5,"P":306.7,"Mu":0.395},{"k":"m","g":35,"V":59.5,"P":95.5,"Mu":0.509},{"k":"m","g":36,"V":57,"P":306.7,"Mu":0.402},{"k":"m","g":36,"V":57,"P":95.5,"Mu":0.523},{"k":"m","g":37,"V":54.5,"P":306.7,"Mu":0.409},{"k":"m","g":37,"V":54.5,"P":95.5,"Mu":0.536},{"k":"m","g":38,"V":52,"P":306.7,"Mu":0.416},{"k":"m","g":38,"V":52,"P":95.5,"Mu":0.549},{"k":"m","g":39,"V":49.5,"P":306.7,"Mu":0.425},{"k":"m","g":39,"V":49.5,"P":95.5,"Mu":0.562},{"k":"m","g":40,"V":47,"P":306.7,"Mu":0.435},{"k":"m","g":40,"V":47,"P":95.5,"Mu":0.575},{"k":"m","g":41,"V":44.5,"P":306.7,"Mu":0.445},{"k":"m","g":41,"V":44.5,"P":95.5,"Mu":0.588},{"k":"m","g":42,"V":42,"P":306.7,"Mu":0.454},{"k":"m","g":42,"V":42,"P":95.5,"Mu":0.601},{"k":"m","g":43,"V":39.5,"P":306.7,"Mu":0.464},{"k":"m","g":43,"V":39.5,"P":95.5,"Mu":0.614},{"k":"m","g":44,"V":37,"P":306.7,"Mu":0.475},{"k":"m","g":44,"V":37,"P":95.5,"Mu":0.627},{"k":"m","g":45,"V":34.5,"P":306.7,"Mu":0.486},{"k":"m","g":45,"V":34.5,"P":95.5,"Mu":0.64},{"k":"m","g":46,"V":32,"P":306.7,"Mu":0.497},{"k":"m","g":46,"V":32,"P":95.5,"Mu":0.653},{"k":"m","g":47,"V":29.5,"P":306.7,"Mu":0.508},{"k":"m","g":47,"V":29.5,"P":95.5,"Mu":0.668},{"k":"m","g":48,"V":27,"P":306.7,"Mu":0.519},{"k":"m","g":48,"V":27,"P":95.5,"Mu":0.683},{"k":"m","g":49,"V":24.5,"P":306.7,"Mu":0.53},{"k":"m","g":49,"V":24.5,"P":95.5,"Mu":0.698},{"k":"m","g":50,"V":22,"P":306.7,"Mu":0.541},{"k":"m","g":50,"V":22,"P":95.5,"Mu":0.713},{"k":"m","g":51,"V":19.5,"P":306.7,"Mu":0.552},{"k":"m","g":51,"V":19.5,"P":95.5,"Mu":0.728},{"k":"m","g":52,"V":17,"P":306.7,"Mu":0.563},{"k":"m","g":52,"V":17,"P":95.5,"Mu":0.743},{"k":"m","g":53,"V":14.5,"P":306.7,"Mu":0.574},{"k":"m","g":53,"V":14.5,"P":95.5,"Mu":0.758},{"k":"m","g":54,"V":12,"P":306.7,"Mu":0.585},{"k":"m","g":54,"V":12,"P":95.5,"Mu":0.773},{"k":"m","g":55,"V":9.5,"P":306.7,"Mu":0.596},{"k":"m","g":55,"V":9.5,"P":95.5,"Mu":0.788},{"k":"m","g":56,"V":7,"P":306.7,"Mu":0.607},{"k":"m","g":56,"V":7,"P":95.5,"Mu":0.803},{"k":"m","g":57,"V":4.5,"P":306.7,"Mu":0.618},{"k":"m","g":57,"V":4.5,"P":95.5,"Mu":0.818},{"k":"m","g":58,"V":2,"P":306.7,"Mu":0.629},{"k":"m","g":58,"V":2,"P":95.5,"Mu":0.832},
{"k":"p","V":140,"P":100,"Mu":0.193},{"k":"p","V":130,"P":100,"Mu":0.209},{"k":"p","V":120,"P":100,"Mu":0.23},{"k":"p","V":70,"P":100,"Mu":0.4285},{"k":"p","V":60,"P":100,"Mu":0.4855},{"k":"p","V":50,"P":100,"Mu":0.542},{"k":"p","V":40,"P":100,"Mu":0.598},{"k":"p","V":30,"P":100,"Mu":0.652},{"k":"p","V":20,"P":100,"Mu":0.699},{"k":"p","V":10,"P":100,"Mu":0.7545},
{"k":"p","V":140,"P":200,"Mu":0.19},{"k":"p","V":130,"P":200,"Mu":0.2},{"k":"p","V":120,"P":200,"Mu":0.225},{"k":"p","V":80,"P":200,"Mu":0.349},{"k":"p","V":70,"P":200,"Mu":0.386},{"k":"p","V":50,"P":200,"Mu":0.487},{"k":"p","V":40,"P":200,"Mu":0.5325},{"k":"p","V":30,"P":200,"Mu":0.5745},{"k":"p","V":20,"P":200,"Mu":0.6165},{"k":"p","V":0,"P":200,"Mu":0.758},
{"k":"p","V":140,"P":300,"Mu":0.201},{"k":"p","V":130,"P":300,"Mu":0.218},{"k":"p","V":120,"P":300,"Mu":0.234},{"k":"p","V":110,"P":300,"Mu":0.251},{"k":"p","V":100,"P":300,"Mu":0.279},{"k":"p","V":90,"P":300,"Mu":0.3075},{"k":"p","V":80,"P":300,"Mu":0.337},{"k":"p","V":70,"P":300,"Mu":0.371},{"k":"p","V":60,"P":300,"Mu":0.4015},{"k":"p","V":50,"P":300,"Mu":0.433},{"k":"p","V":40,"P":300,"Mu":0.469},{"k":"p","V":30,"P":300,"Mu":0.506},{"k":"p","V":20,"P":300,"Mu":0.548}
]},
"transform":[{"calculate":"61.7+(147-datum.V)*2.812+(306.7-datum.P)*0.5526","as":"sx"},{"calculate":"501.7+(147-datum.V)*0.1668-(306.7-datum.P)*0.4418-(datum.Mu-0.162)*159.5","as":"sy"}],
"encoding":{"x":{"field":"sx","type":"quantitative","axis":null,"scale":{"domain":[5,647],"nice":false,"zero":false}},"y":{"field":"sy","type":"quantitative","axis":null,"scale":{"domain":[559,280],"nice":false,"zero":false}}},
"layer":[
{"transform":[{"filter":"datum.k==='w'"}],"mark":{"type":"line","order":false,"fill":"#fdfdfb","strokeWidth":0}},
{"transform":[{"filter":"datum.k==='g'"}],"mark":{"type":"line","order":false,"stroke":"#e3e3e1","strokeWidth":1},"encoding":{"detail":{"field":"g"}}},
{"transform":[{"filter":"datum.k==='b'"}],"mark":{"type":"line","order":false,"stroke":"#555555","strokeWidth":1},"encoding":{"detail":{"field":"g"}}},
{"transform":[{"filter":"datum.k==='l'"}],"mark":{"type":"text","fontSize":9.6,"fill":"#555555","align":"center","baseline":"middle"},"encoding":{"text":{"field":"t"}}},
{"transform":[{"filter":"datum.k==='z'"}],"mark":{"type":"text","fontSize":9.6,"fill":"#555555","align":"right","baseline":"middle"},"encoding":{"text":{"field":"t"}}},
{"transform":[{"filter":"datum.k==='a'"}],"mark":{"type":"text","fontSize":10.2,"fill":"#444444","align":"center","baseline":"middle"},"encoding":{"text":{"field":"t"}}},
{"transform":[{"filter":"datum.k==='r'"}],"mark":{"type":"text","fontSize":10.2,"fill":"#444444","align":"center","baseline":"middle","angle":270},"encoding":{"text":{"field":"t"}}},
{"transform":[{"filter":"datum.k==='s'"}],"mark":{"type":"line","order":false,"strokeWidth":0,"fill":{"gradient":"linear","x1":0.1736,"y1":0.0294,"x2":0.972,"y2":0.1647,"stops":[{"offset":0,"color":"#5a2a9e"},{"offset":0.3,"color":"#5a3ccb"},{"offset":0.47,"color":"#4a5fe0"},{"offset":0.585,"color":"#2d86ea"},{"offset":0.7,"color":"#12a2dc"},{"offset":0.76,"color":"#0fb0b0"},{"offset":0.82,"color":"#2fb87a"},{"offset":0.87,"color":"#70bd4a"},{"offset":0.91,"color":"#b0bc35"},{"offset":0.945,"color":"#e8b030"},{"offset":0.98,"color":"#f0a838"},{"offset":1.04,"color":"#c8d428"}]}}},
{"transform":[{"filter":"datum.k==='m'"}],"mark":{"type":"line","order":false,"stroke":"#000000","strokeWidth":0.8,"strokeOpacity":0.2},"encoding":{"detail":{"field":"g"}}},
{"transform":[{"filter":"datum.k==='p'"}],"mark":{"type":"point","filled":true,"fill":"#000000","fillOpacity":1,"size":16},"encoding":{"shape":{"datum":"Mumax_type1 vs. V_kn_type1, Press_type1","scale":{"range":["circle"]},"legend":{"title":null,"orient":"none","legendX":396.7,"legendY":27.7,"fillColor":"#ffffff","strokeColor":"#444444","padding":2,"labelFontSize":8.4,"labelColor":"#333333","labelLimit":400,"symbolSize":14,"symbolType":"circle","symbolFillColor":"#000000","symbolStrokeColor":"#000000","symbolOffset":11,"labelOffset":11}}}}
]}
]}
